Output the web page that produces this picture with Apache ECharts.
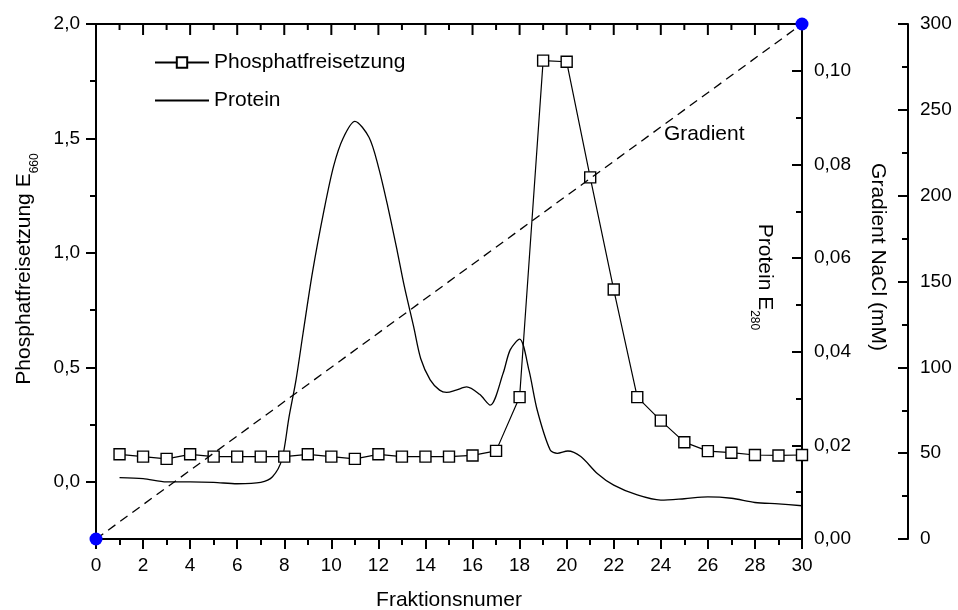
<!DOCTYPE html>
<html lang="de">
<head>
    <meta charset="UTF-8">
    <title>Phosphatfreisetzung</title>
    <style>
        * {
            margin: 0;
            padding: 0;
        }

        html, body {
            height: 100%;
            width: 100%;
            background: #fff;
        }
    </style>
    <script src="https://cdn.jsdelivr.net/npm/echarts@6/dist/echarts.min.js"></script>
</head>
<body>

<div id="main" style="width: 958px;height: 610px;"></div>

<script>
    // Fraktionen 1..30, Phosphatfreisetzung (E660, linke Achse)
    var phosX = [1, 2, 3, 4, 5, 6, 7, 8, 9, 10, 11, 12, 13, 14, 15, 16, 17, 18, 19, 20, 21, 22, 23, 24, 25, 26, 27, 28, 29, 30];
    var phosY = [0.12, 0.11, 0.10, 0.12, 0.11, 0.11, 0.11, 0.11, 0.12, 0.11, 0.10, 0.12, 0.11, 0.11, 0.11, 0.115, 0.135, 0.37,
        1.84, 1.835, 1.33, 0.84, 0.37, 0.267, 0.173, 0.134, 0.127, 0.117, 0.115, 0.117];

    var proteinX = [1, 2, 3, 4, 5, 6, 7, 7.5, 7.9, 8.2, 8.5, 8.8, 9.2, 9.7, 10.1, 10.5, 11, 11.6, 12, 12.4, 12.8, 13.1, 13.5,
        13.8, 14.2, 14.6, 14.9, 15.3, 15.75, 16.3, 16.75, 17.3, 17.6, 18, 18.4, 18.75, 19.3, 19.6, 20.05, 20.6, 21.3, 22,
        23, 24, 25, 26, 27, 28, 29, 30];
    var proteinY = [0.0131, 0.0129, 0.0122, 0.0122, 0.0121, 0.0118, 0.0121, 0.0133, 0.0170, 0.026, 0.034, 0.044, 0.057,
        0.0705, 0.0797, 0.0856, 0.0892, 0.0858, 0.0795, 0.071, 0.0615, 0.054, 0.0453, 0.0385, 0.034, 0.0318, 0.0313,
        0.0318, 0.0325, 0.0309, 0.0286, 0.0354, 0.0404, 0.0427, 0.036, 0.0275, 0.019, 0.0183, 0.0188, 0.0176, 0.014,
        0.0115, 0.0094, 0.0083, 0.0086, 0.0090, 0.0087, 0.0078, 0.0075, 0.0071];

    // Gradient NaCl (mM), rechte äußere Achse
    var gradX = [0, 30];
    var gradY = [0, 300];

    // Teilstriche
    var xMajor = [0, 2, 4, 6, 8, 10, 12, 14, 16, 18, 20, 22, 24, 26, 28, 30];
    var xMinor = [1, 3, 5, 7, 9, 11, 13, 15, 17, 19, 21, 23, 25, 27, 29];
    var leftMajor = [0, 0.5, 1.0, 1.5, 2.0];
    var leftMinor = [0.25, 0.75, 1.25, 1.75];
    var proteinMajor = [0, 0.02, 0.04, 0.06, 0.08, 0.10];
    var proteinMinor = [0.01, 0.03, 0.05, 0.07, 0.09];
    var leftTop = 2.0;

    function zip(a, b) {
        var out = [];
        for (var i = 0; i < a.length; i++) out.push([a[i], b[i]]);
        return out;
    }

    function komma(v, n) {
        return v.toFixed(n).replace('.', ',');
    }

    var font = 'Liberation Sans, Arial, sans-serif';
    var black = '#000';
    var myChart = echarts.init(document.getElementById('main'));

    function line() {
        return {show: true, onZero: false, lineStyle: {color: black, width: 2}};
    }

    function ticks(values, len, inside) {
        return {show: true, inside: inside, length: len, customValues: values, lineStyle: {color: black, width: 2}};
    }

    // Teilstriche an der Oberkante, nach innen zeigend
    function topTicks(values, len) {
        return {
            type: 'custom',
            xAxisIndex: 0,
            yAxisIndex: 0,
            clip: false,
            silent: true,
            data: values.map(function (v) { return [v, leftTop]; }),
            renderItem: function (params, api) {
                var p = api.coord([api.value(0), api.value(1)]);
                return {
                    type: 'line',
                    shape: {x1: p[0], y1: p[1], x2: p[0], y2: p[1] + len},
                    style: {stroke: black, lineWidth: 2}
                };
            }
        };
    }

    var option = {
        animation: false,
        backgroundColor: '#fff',
        textStyle: {fontFamily: font, color: black},
        grid: {left: 96, right: 156, top: 24, bottom: 71, outerBoundsMode: 'none', containLabel: false},
        legend: {
            data: ['Phosphatfreisetzung', {name: 'Protein', itemStyle: {opacity: 0}}],
            orient: 'vertical',
            left: 154,
            top: 52,
            padding: 0,
            itemWidth: 54,
            itemHeight: 13,
            itemGap: 17,
            textStyle: {fontSize: 21, color: black, fontFamily: font},
            selectedMode: false
        },
        xAxis: [
            {
                type: 'value',
                position: 'bottom',
                min: 0,
                max: 30,
                name: 'Fraktionsnumer',
                nameLocation: 'middle',
                nameGap: 51,
                nameTextStyle: {fontSize: 21, color: black, fontFamily: font},
                axisLine: line(),
                axisTick: ticks(xMajor, 10, false),
                axisLabel: {fontSize: 19, color: black, margin: 17, fontFamily: font, customValues: xMajor},
                splitLine: {show: false}
            },
            {
                type: 'value',
                position: 'bottom',
                min: 0,
                max: 30,
                axisLine: line(),
                axisTick: ticks(xMinor, 6, false),
                axisLabel: {show: false},
                splitLine: {show: false}
            },
            {
                type: 'value',
                position: 'top',
                min: 0,
                max: 30,
                axisLine: line(),
                axisTick: {show: false},
                axisLabel: {show: false},
                splitLine: {show: false}
            }
        ],
        yAxis: [
            {
                type: 'value',
                position: 'left',
                min: -0.25,
                max: 2.0,
                axisLine: line(),
                axisTick: ticks(leftMajor, 10, false),
                axisLabel: {
                    fontSize: 19, color: black, margin: 16, fontFamily: font,
                    customValues: leftMajor,
                    formatter: function (v) {
                        return komma(v, 1);
                    }
                },
                splitLine: {show: false}
            },
            {
                type: 'value',
                position: 'right',
                min: 0,
                max: 0.11,
                axisLine: line(),
                axisTick: ticks(proteinMajor, 10, true),
                axisLabel: {
                    fontSize: 19, color: black, margin: 12, fontFamily: font,
                    customValues: proteinMajor,
                    formatter: function (v) {
                        return komma(v, 2);
                    }
                },
                splitLine: {show: false}
            },
            {
                type: 'value',
                position: 'right',
                offset: 106,
                min: 0,
                max: 300,
                interval: 50,
                axisLine: line(),
                axisTick: {show: true, inside: true, length: 10, lineStyle: {color: black, width: 2}},
                minorTick: {show: true, splitNumber: 2, length: 6, lineStyle: {color: black, width: 2}},
                axisLabel: {fontSize: 19, color: black, margin: 12, fontFamily: font},
                splitLine: {show: false}
            },
            {
                // kleine Teilstriche links
                type: 'value',
                position: 'left',
                min: -0.25,
                max: 2.0,
                axisLine: line(),
                axisTick: ticks(leftMinor, 6, false),
                axisLabel: {show: false},
                splitLine: {show: false}
            },
            {
                // kleine Teilstriche Protein
                type: 'value',
                position: 'right',
                min: 0,
                max: 0.11,
                axisLine: line(),
                axisTick: ticks(proteinMinor, 6, true),
                axisLabel: {show: false},
                splitLine: {show: false}
            }
        ],
        series: [
            {
                name: 'Protein',
                type: 'line',
                xAxisIndex: 0,
                yAxisIndex: 1,
                smooth: 0.3,
                symbol: 'none',
                lineStyle: {color: black, width: 1.3},
                itemStyle: {color: black},
                data: zip(proteinX, proteinY)
            },
            {
                name: 'Phosphatfreisetzung',
                type: 'line',
                xAxisIndex: 0,
                yAxisIndex: 0,
                symbol: 'rect',
                symbolSize: 11,
                lineStyle: {color: black, width: 1.2},
                itemStyle: {color: '#fff', borderColor: black, borderWidth: 1.4},
                data: zip(phosX, phosY)
            },
            {
                name: 'Gradient',
                type: 'line',
                xAxisIndex: 0,
                yAxisIndex: 2,
                symbol: 'circle',
                symbolSize: 13,
                clip: false,
                z: 5,
                lineStyle: {color: black, width: 1.3, type: [9, 6]},
                itemStyle: {color: '#0000ff'},
                data: zip(gradX, gradY)
            },
            topTicks(xMajor, 11),
            topTicks(xMinor, 6)
        ],
        graphic: [
            {
                type: 'text',
                x: 27,
                y: 269,
                rotation: Math.PI / 2,
                style: {
                    text: '{n|Phosphatfreisetzung E}{s|660}',
                    align: 'center',
                    verticalAlign: 'middle',
                    fill: black,
                    font: '21px ' + font,
                    rich: {
                        n: {fontSize: 21, lineHeight: 27, verticalAlign: 'top', fontFamily: font},
                        s: {fontSize: 12, verticalAlign: 'bottom', fontFamily: font}
                    }
                }
            },
            {
                type: 'text',
                x: 762,
                y: 277,
                rotation: -Math.PI / 2,
                style: {
                    text: '{n|Protein E}{s|280}',
                    align: 'center',
                    verticalAlign: 'middle',
                    fill: black,
                    font: '21px ' + font,
                    rich: {
                        n: {fontSize: 21, lineHeight: 27, verticalAlign: 'top', fontFamily: font},
                        s: {fontSize: 12, verticalAlign: 'bottom', fontFamily: font}
                    }
                }
            },
            {
                type: 'text',
                x: 878,
                y: 257,
                rotation: -Math.PI / 2,
                style: {
                    text: 'Gradient NaCl (mM)',
                    align: 'center',
                    verticalAlign: 'middle',
                    fill: black,
                    font: '21px ' + font
                }
            },
            {
                type: 'text',
                x: 664,
                y: 134,
                style: {
                    text: 'Gradient',
                    align: 'left',
                    verticalAlign: 'middle',
                    fill: black,
                    font: '21px ' + font
                }
            }
        ]
    };
    myChart.setOption(option);
</script>

</body>
</html>
